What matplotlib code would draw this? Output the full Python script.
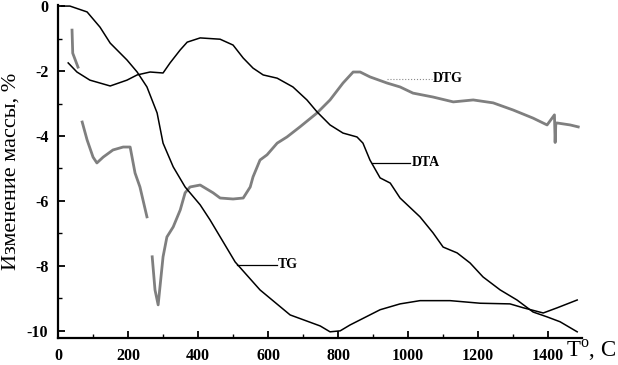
import matplotlib
matplotlib.use("Agg")
import matplotlib.pyplot as plt
import numpy as np

plt.rcParams["font.family"] = ["Liberation Serif", "DejaVu Serif"]
plt.rcParams["mathtext.fontset"] = "custom"
plt.rcParams["mathtext.rm"] = "Liberation Serif"

# TG curve (temperature, mass change %)
tg_t = [10, 34, 83, 120, 149, 197, 226, 254, 283, 300, 329, 363, 406, 434, 506, 577,
        663, 749, 777, 806, 834, 920, 977, 1034, 1120, 1206, 1291, 1329, 1386, 1426, 1483]
tg_v = [0.0, 0.0, -0.18, -0.65, -1.14, -1.66, -2.03, -2.49, -3.29, -4.22, -4.95, -5.57,
        -6.12, -6.58, -7.88, -8.74, -9.51, -9.85, -10.03, -10.0, -9.82, -9.35, -9.17,
        -9.07, -9.07, -9.15, -9.17, -9.29, -9.45, -9.29, -9.05]

# DTA curve
dta_t = [29, 54, 91, 149, 197, 226, 263, 300, 320, 349, 369, 406, 463, 500, 529, 557,
         586, 626, 671, 711, 740, 777, 814, 854, 871, 891, 920, 949, 977, 1034, 1071,
         1100, 1140, 1177, 1214, 1263, 1311, 1357, 1397, 1434, 1483]
dta_v = [-1.75, -2.03, -2.28, -2.46, -2.28, -2.12, -2.03, -2.06, -1.75, -1.35, -1.11,
         -0.98, -1.02, -1.2, -1.6, -1.91, -2.12, -2.22, -2.49, -2.89, -3.26, -3.66,
         -3.91, -4.03, -4.22, -4.74, -5.29, -5.45, -5.91, -6.49, -6.98, -7.42, -7.6,
         -7.91, -8.34, -8.74, -9.05, -9.42, -9.57, -9.72, -10.03]

# DTG curve (gaps where the trace breaks up)
dtg_t = [40, 42, 57, np.nan, 69, 83, 100, 111, 129, 157, 186, 206, 220, 234, 254, np.nan,
         269, 277, 286, 300, 311, 329, 349, 363, 377, 406, 443, 463, 500, 529, 549, 557,
         577, 597, 626, 654, 691, 740, 777, 814, 843, 863, 891, 940, 977, 1014, 1071,
         1129, 1186, 1243, 1300, 1357, 1397, 1418, 1420, 1422, 1426, 1463, 1486]
dtg_v = [-0.74, -1.45, -1.88, np.nan, -3.57, -4.12, -4.65, -4.83, -4.65, -4.43, -4.34,
         -4.34, -5.14, -5.57, -6.49, np.nan, -7.72, -8.74, -9.2, -7.72, -7.11, -6.8,
         -6.28, -5.75, -5.57, -5.51, -5.75, -5.91, -5.94, -5.91, -5.57, -5.26, -4.74,
         -4.58, -4.22, -4.03, -3.72, -3.29, -2.89, -2.37, -2.03, -2.03, -2.18, -2.37,
         -2.49, -2.68, -2.8, -2.95, -2.89, -2.98, -3.2, -3.45, -3.66, -3.35, -4.2,
         -3.6, -3.6, -3.66, -3.72]

x_ticks = [0, 200, 400, 600, 800, 1000, 1200, 1400]
y_ticks = [0, -2, -4, -6, -8, -10]

fig = plt.figure(figsize=(6.18, 3.65), dpi=100)
ax = fig.add_axes([0.0939, 0.074, 0.848, 0.912])

ax.plot(dtg_t, dtg_v, color="#7f7f7f", lw=2.0)
ax.plot(tg_t, tg_v, color="black", lw=1.1)
ax.plot(dta_t, dta_v, color="black", lw=1.1)

# curve labels with pointer lines
ax.plot([511, 626], [-7.97, -7.97], color="black", lw=0.9)
ax.text(629, -7.95, "TG", fontsize=10, fontweight="bold", va="center", ha="left")
ax.plot([897, 1006], [-4.83, -4.83], color="black", lw=0.9)
ax.text(1010, -4.81, "DTA", fontsize=10, fontweight="bold", va="center", ha="left")
ax.plot([940, 1069], [-2.25, -2.25], color="#8a8a8a", lw=0.8, ls=":")
ax.text(1071, -2.23, "DTG", fontsize=10, fontweight="bold", va="center", ha="left")

ax.set_xlim(0, 1497)
ax.set_ylim(-10.22, 0.03)
ax.set_xticks(x_ticks)
ax.set_xticklabels([str(v) for v in x_ticks])
ax.set_xticks(np.arange(100, 1500, 200), minor=True)
ax.set_yticks(y_ticks)
ax.set_yticklabels([str(v) for v in y_ticks])
ax.set_yticks(np.arange(-9, 0, 2), minor=True)
ax.tick_params(which="major", direction="in", length=5, width=1.3, labelsize=11.5, pad=7)
ax.tick_params(which="minor", direction="in", length=3, width=1.0)
for lab in ax.get_xticklabels() + ax.get_yticklabels():
    lab.set_fontweight("bold")

for s in ("top", "right"):
    ax.spines[s].set_visible(False)
for s in ("left", "bottom"):
    ax.spines[s].set_linewidth(1.6)

fig.text(0.018, 0.53, "Изменение массы, %", rotation=90, fontsize=16,
         ha="center", va="center")
fig.text(0.916, 0.022, r"T$^{\mathrm{o}}$, C", fontsize=16.5, ha="left", va="baseline")

fig.savefig("out.png", dpi=100, facecolor="white")
